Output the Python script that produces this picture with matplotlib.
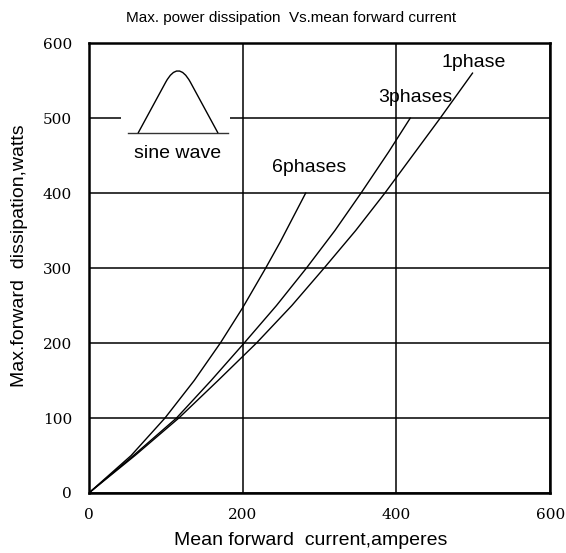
import numpy as np
import matplotlib.pyplot as plt
from matplotlib.path import Path
from matplotlib.patches import PathPatch, Rectangle

# ─── Data ──────────────────────────────────────────────────────────────
cur_6ph = [0, 55, 99, 137, 171, 200, 230, 249, 282]
pw_6ph = [0, 50, 100, 150, 200, 247, 300, 335, 400]

cur_3ph = [0, 58, 114, 159, 202, 244, 283, 320, 354, 390, 418]
pw_3ph = [0, 50, 100, 150, 200, 250, 300, 350, 400, 455, 500]

cur_1ph = [0, 60, 117, 168, 218, 264, 306, 347, 385, 457, 499]
pw_1ph = [0, 50, 100, 150, 200, 250, 300, 350, 400, 500, 560]

x_ticks = [0, 200, 400, 600]
y_ticks = [0, 100, 200, 300, 400, 500, 600]

SANS = ["Liberation Sans", "DejaVu Sans"]
SERIF = ["DejaVu Serif"]

# ─── Figure ────────────────────────────────────────────────────────────
fig = plt.figure(figsize=(5.66, 5.53), dpi=100)
ax = fig.add_axes([0.157, 0.1085, 0.815, 0.8135])

for x, y in [(cur_6ph, pw_6ph), (cur_3ph, pw_3ph), (cur_1ph, pw_1ph)]:
    ax.plot(x, y, color="black", lw=1.0, zorder=3)

ax.set_xlim(0, 600)
ax.set_ylim(0, 600)
ax.set_xticks(x_ticks)
ax.set_yticks(y_ticks)
ax.set_axisbelow(True)
ax.grid(True, color="black", lw=1.1)
for sp in ax.spines.values():
    sp.set_linewidth(1.8)
ax.tick_params(axis="both", length=0, labelsize=11)
ax.tick_params(axis="x", pad=11)
ax.tick_params(axis="y", pad=12)
for lab in ax.get_xticklabels() + ax.get_yticklabels():
    lab.set_family(SERIF)

# curve labels
ax.text(501, 574, "1phase", family=SANS, fontsize=14, ha="center", va="center")
ax.text(425, 527, "3phases", family=SANS, fontsize=14, ha="center", va="center")
ax.text(286, 434, "6phases", family=SANS, fontsize=14, ha="center", va="center")

# ─── Sine wave inset ───────────────────────────────────────────────────
ax.add_patch(Rectangle((42, 440), 142, 150, facecolor="white", edgecolor="none", zorder=1))
ax.plot([51, 181], [480, 480], color="#333333", lw=1.0, zorder=3)
hump = Path(
    [(64, 480), (100, 548), (116, 578), (132, 548), (168, 480)],
    [Path.MOVETO, Path.LINETO, Path.CURVE3, Path.CURVE3, Path.LINETO],
)
ax.add_patch(PathPatch(hump, facecolor="none", edgecolor="black", lw=1.0, zorder=3))
ax.text(116, 453, "sine wave", family=SANS, fontsize=14, ha="center", va="center")

ax.set_xlabel("Mean forward  current,amperes", family=SANS, fontsize=14, labelpad=7)
ax.set_ylabel("Max.forward  dissipation,watts", family=SANS, fontsize=14, labelpad=11)
ax.xaxis.label.set_x(0.48)
ax.yaxis.label.set_y(0.527)
fig.text(0.515, 0.968, "Max. power dissipation  Vs.mean forward current",
         family=SANS, fontsize=11, ha="center", va="center")

fig.savefig("out.png", dpi=100)
